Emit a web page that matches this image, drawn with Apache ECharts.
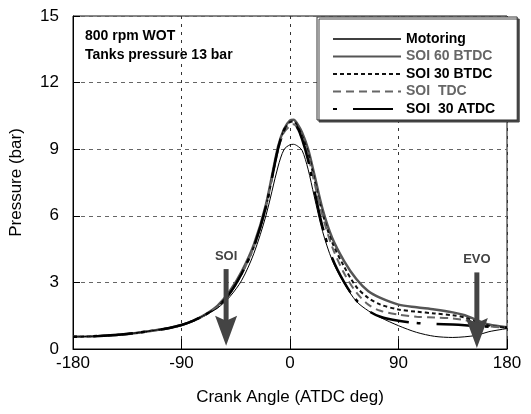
<!DOCTYPE html>
<html>
<head>
<meta charset="utf-8">
<script src="https://cdn.jsdelivr.net/npm/echarts@6/dist/echarts.min.js"></script>
<style>
html, body { margin: 0; padding: 0; background: #fff; }
#chart { width: 531px; height: 414px; }
</style>
</head>
<body>
<div id="chart"></div>
<script>
// crank angle (deg ATDC) shared by all traces
var angles = [-180,-160,-140,-120,-100,-90,-80,-70,-60,-50,-40,-30,-20,-10,-5,0,3,6,10,15,20,27,35,45,55,65,75,90,105,120,135,145,155,165,180];

// cylinder pressure (bar)
var motoring = [0.55,0.58,0.65,0.78,0.95,1.08,1.28,1.55,1.85,2.35,3.1,4.3,6.0,8.2,8.98,9.2,9.22,9.15,8.95,8.1,6.9,5.3,4.0,2.95,2.15,1.72,1.42,1.05,0.75,0.57,0.52,0.55,0.62,0.78,0.92];
var soi60btdc = [0.55,0.58,0.65,0.78,0.95,1.08,1.28,1.56,1.95,2.6,3.5,4.7,6.5,9.1,9.9,10.3,10.33,10.15,9.75,9.0,7.9,6.3,5.0,3.95,3.15,2.6,2.3,2.0,1.88,1.78,1.65,1.52,1.3,1.1,0.98];
var soi30btdc = [0.55,0.58,0.65,0.78,0.95,1.08,1.28,1.55,1.9,2.5,3.4,4.6,6.4,9.0,9.85,10.22,10.25,10.05,9.6,8.85,7.7,6.1,4.8,3.7,2.8,2.3,2.0,1.78,1.68,1.6,1.52,1.42,1.22,1.05,0.96];
var soiTdc = [0.55,0.58,0.65,0.78,0.95,1.08,1.28,1.55,1.9,2.5,3.4,4.6,6.4,8.95,9.75,10.05,10.12,9.95,9.5,8.7,7.55,6.0,4.6,3.4,2.55,2.0,1.72,1.55,1.45,1.42,1.38,1.3,1.15,1.02,0.95];
var soi30atdc = [0.55,0.58,0.65,0.78,0.95,1.08,1.28,1.55,1.9,2.5,3.4,4.6,6.4,9.0,9.85,10.2,10.22,10.0,9.45,8.5,7.2,5.5,4.1,3.0,2.2,1.72,1.45,1.27,1.17,1.13,1.1,1.07,1.03,1.0,0.97];

// arrows (SOI / EVO)
var arrowNames = ['SOI', 'EVO'];
var arrowAngles = [-53, 155];
var arrowTops = [3.6, 3.45];
var arrowTips = [0.15, 0.05];

var FONT = '"Liberation Sans", Arial, sans-serif';

function pairs(vals){
    var out = [];
    for(var i=0; i<angles.length; i++){
        out.push([angles[i], vals[i]]);
    }
    return out;
}

var chart = echarts.init(document.getElementById('chart'));

var arrowData = [];
for(var k=0; k<arrowNames.length; k++){
    arrowData.push([arrowAngles[k], arrowTops[k], arrowTips[k]]);
}

var option = {
    animation: false,
    backgroundColor: '#fff',
    grid: {
        left: 68, top: 16, right: 24, bottom: 65,
        show: true, borderColor: '#111', borderWidth: 1
    },
    legend: {
        orient: 'vertical',
        left: 317, top: 17,
        padding: [15, 22, 4, 15],
        itemWidth: 68, itemHeight: 14, itemGap: 3.5,
        backgroundColor: '#fff',
        borderColor: '#333', borderWidth: 1,
        shadowColor: '#444', shadowOffsetX: 2, shadowOffsetY: 2, shadowBlur: 0,
        itemStyle: { opacity: 0 },
        textStyle: { fontFamily: FONT, fontSize: 14, fontWeight: 'bold', color: '#000' },
        data: [
            { name: 'Motoring', lineStyle: { width: 1.4, color: '#000' } },
            { name: 'SOI 60 BTDC', textStyle: { color: '#666' } },
            { name: 'SOI 30 BTDC' },
            { name: 'SOI  TDC', textStyle: { color: '#666' } },
            { name: 'SOI  30 ATDC' }
        ]
    },
    graphic: [{
        type: 'text', left: 85, top: 27,
        style: {
            text: '800 rpm WOT\nTanks pressure 13 bar',
            font: 'bold 14px ' + FONT, fill: '#000', lineHeight: 19
        }
    }],
    xAxis: {
        type: 'value', min: -180, max: 180, interval: 90,
        name: 'Crank Angle (ATDC deg)', nameLocation: 'middle', nameGap: 40,
        nameTextStyle: { fontFamily: FONT, fontSize: 17, color: '#000' },
        axisLine: { onZero: false, lineStyle: { color: '#000' } },
        axisTick: { inside: true, length: 10, lineStyle: { color: '#000' } },
        axisLabel: { fontFamily: FONT, fontSize: 17, color: '#000', margin: 6 },
        splitLine: { show: true, lineStyle: { color: '#333', type: [3, 5] } }
    },
    yAxis: {
        type: 'value', min: 0, max: 15, interval: 3,
        name: 'Pressure (bar)', nameLocation: 'middle', nameGap: 48,
        nameTextStyle: { fontFamily: FONT, fontSize: 17, color: '#000' },
        axisLine: { show: true, onZero: false, lineStyle: { color: '#000' } },
        axisTick: { show: true, inside: true, length: 7, lineStyle: { color: '#000' } },
        axisLabel: { fontFamily: FONT, fontSize: 17, color: '#000', margin: 14 },
        splitLine: { show: true, lineStyle: { color: '#666', type: [4, 4] } }
    },
    series: [
        {
            name: 'SOI 60 BTDC', type: 'line', symbol: 'none', smooth: 0.3, z: 2,
            lineStyle: { color: '#555', width: 2.5 }, itemStyle: { color: '#555' },
            data: pairs(soi60btdc)
        },
        {
            name: 'SOI 30 BTDC', type: 'line', symbol: 'none', smooth: 0.3, z: 3,
            lineStyle: { color: '#111', width: 2, type: [4, 3] }, itemStyle: { color: '#111' },
            data: pairs(soi30btdc)
        },
        {
            name: 'SOI  TDC', type: 'line', symbol: 'none', smooth: 0.3, z: 3,
            lineStyle: { color: '#666', width: 2, type: [8, 5] }, itemStyle: { color: '#666' },
            data: pairs(soiTdc)
        },
        {
            name: 'SOI  30 ATDC', type: 'line', symbol: 'none', smooth: 0.3, z: 4,
            lineStyle: { color: '#000', width: 2.5, type: [4, 16, 40, 8] }, itemStyle: { color: '#000' },
            data: pairs(soi30atdc)
        },
        {
            name: 'Motoring', type: 'line', symbol: 'none', smooth: 0.3, z: 5,
            lineStyle: { color: '#000', width: 1 }, itemStyle: { color: '#000' },
            data: pairs(motoring)
        },
        {
            name: 'arrows', type: 'custom', z: 6, clip: false,
            encode: { x: 0, y: 1 },
            data: arrowData,
            renderItem: function(params, api){
                var i = params.dataIndex;
                var top = api.coord([api.value(0), api.value(1)]);
                var tip = api.coord([api.value(0), api.value(2)]);
                var headLen = 30, headHalf = 11, shaftHalf = 2.5, notch = 5;
                return {
                    type: 'group',
                    children: [
                        { type: 'rect',
                          shape: { x: top[0] - shaftHalf, y: top[1], width: shaftHalf * 2, height: tip[1] - headLen + notch - top[1] + 1 },
                          style: { fill: '#444' } },
                        { type: 'polygon',
                          shape: { points: [[tip[0], tip[1]], [tip[0] - headHalf, tip[1] - headLen], [tip[0], tip[1] - headLen + notch], [tip[0] + headHalf, tip[1] - headLen]] },
                          style: { fill: '#444' } },
                        { type: 'text',
                          style: { text: arrowNames[i], x: top[0], y: top[1] - 6, fill: '#444', font: 'bold 13px ' + FONT, align: 'center', verticalAlign: 'bottom' } }
                    ]
                };
            }
        }
    ]
};

chart.setOption(option);
</script>
</body>
</html>
